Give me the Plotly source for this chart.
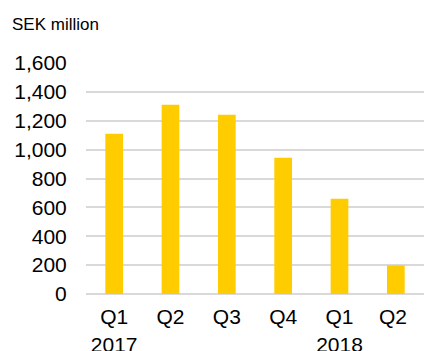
import plotly.graph_objects as go

categories = ["Q1<br>2017", "Q2", "Q3", "Q4", "Q1<br>2018", "Q2 "]
values = [1110, 1311, 1242, 944, 660, 198]
y_ticks = [0, 200, 400, 600, 800, 1000, 1200, 1400, 1600]
y_tick_labels = ["0", "200", "400", "600", "800", "1,000", "1,200", "1,400", "1,600"]

fig = go.Figure(go.Bar(x=categories, y=values, marker_color="#FFCC00",
                       marker_line_width=0))
fig.update_layout(
    width=424, height=351,
    margin=dict(l=86, r=0, t=63, b=57),
    paper_bgcolor="white", plot_bgcolor="white",
    bargap=0.686,
    showlegend=False,
    font=dict(family="Liberation Sans, Arial, sans-serif", color="#000000", size=21),
    annotations=[dict(text="SEK million", xref="paper", yref="paper",
                      x=-76/338, y=1 + 39/231, xanchor="left", yanchor="middle",
                      showarrow=False, font=dict(size=17))],
)
fig.update_xaxes(type="category", showgrid=False, showline=False, zeroline=False,
                 ticks="outside", ticklen=4, tickcolor="rgba(0,0,0,0)",
                 tickfont=dict(size=21), automargin=False)
fig.update_yaxes(range=[0, 1600], tickvals=y_ticks, ticktext=y_tick_labels,
                 showgrid=True, gridcolor="#d9d9d9", gridwidth=1.5,
                 zeroline=True, zerolinecolor="#d9d9d9", zerolinewidth=1.5,
                 showline=False, ticks="outside", ticklen=14,
                 tickcolor="rgba(0,0,0,0)", tickfont=dict(size=21), automargin=False)
fig.write_html("out.html")
